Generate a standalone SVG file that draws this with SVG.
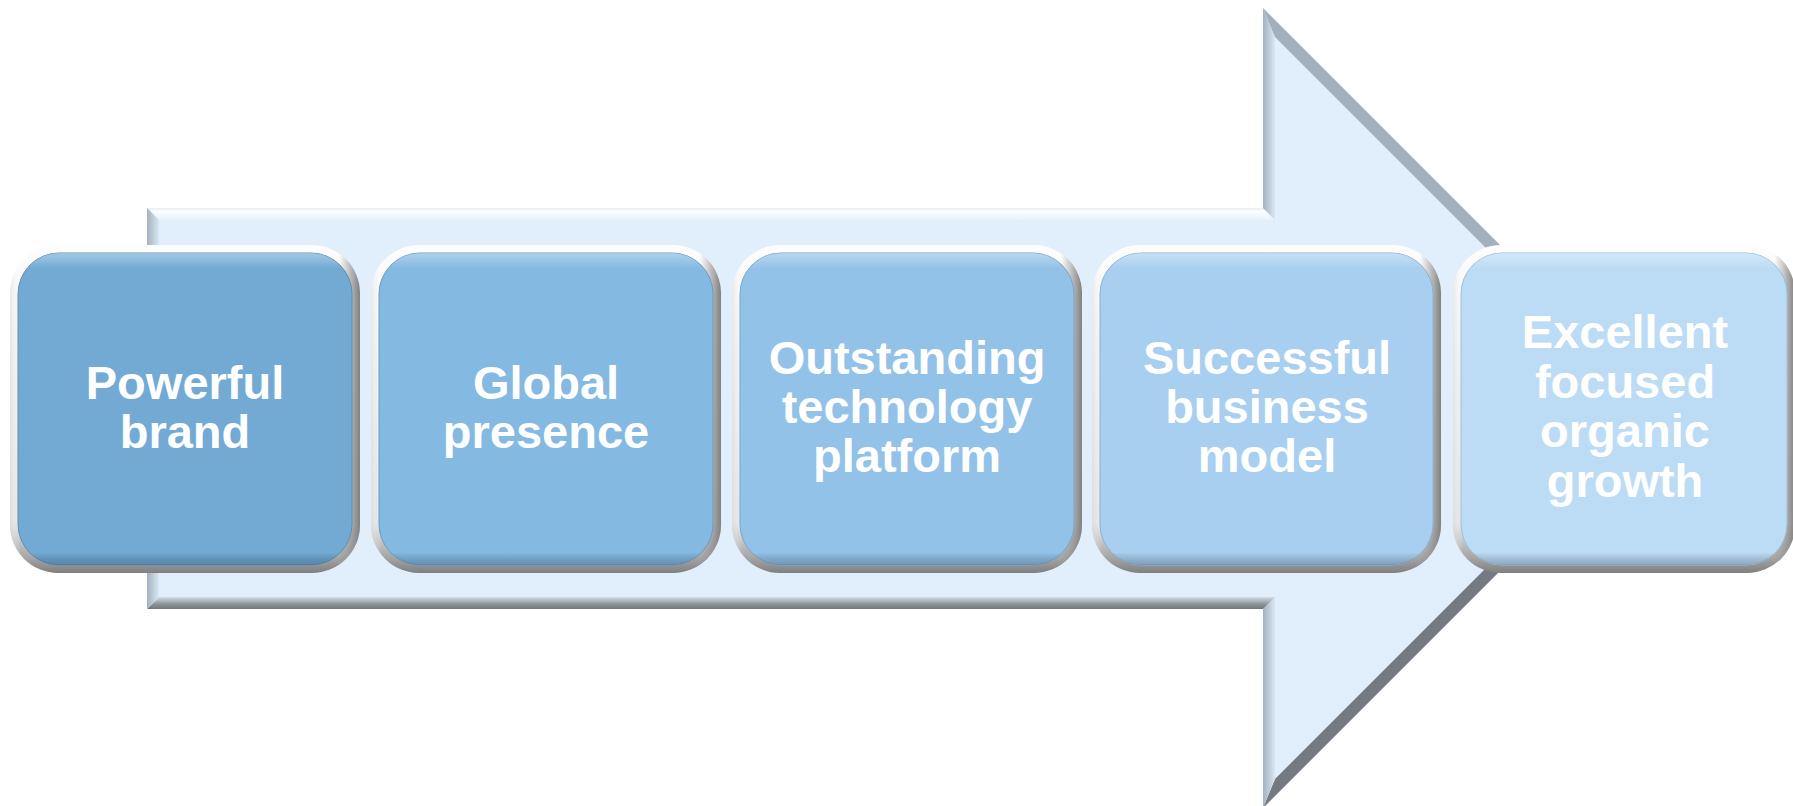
<svg xmlns="http://www.w3.org/2000/svg" width="1793" height="806" viewBox="0 0 1793 806">
<defs>
<style>
.lbl{font-family:"Liberation Sans",Arial,sans-serif;font-weight:bold;font-size:47px;fill:#ffffff;text-anchor:middle}
.frameV{fill:url(#frameV)}
.frameH{fill:url(#frameH)}
.hl{fill:url(#innerHL)}
</style>
<linearGradient id="frameV" x1="0" y1="0" x2="0" y2="1">
<stop offset="0" stop-color="#fdfdfd"/>
<stop offset="0.85" stop-color="#e4e4e4"/>
<stop offset="0.95" stop-color="#a8a8a8"/>
<stop offset="1" stop-color="#7f7f7f"/>
</linearGradient>
<linearGradient id="frameH" x1="0" y1="0" x2="1" y2="0">
<stop offset="0" stop-color="#d8d8d8" stop-opacity="0.5"/>
<stop offset="0.03" stop-color="#ffffff" stop-opacity="0"/>
<stop offset="0.94" stop-color="#8a8a8a" stop-opacity="0"/>
<stop offset="1" stop-color="#808080" stop-opacity="1"/>
</linearGradient>
<linearGradient id="innerHL" x1="0" y1="0" x2="0" y2="1">
<stop offset="0" stop-color="#ffffff" stop-opacity="0.35"/>
<stop offset="0.05" stop-color="#ffffff" stop-opacity="0"/>
<stop offset="0.96" stop-color="#000000" stop-opacity="0"/>
<stop offset="1" stop-color="#1a3550" stop-opacity="0.3"/>
</linearGradient>
<linearGradient id="bTop" x1="0" y1="0" x2="0" y2="1">
<stop offset="0" stop-color="#e8eef3"/>
<stop offset="0.3" stop-color="#fbfdff"/>
<stop offset="1" stop-color="#e6f2fc"/>
</linearGradient>
<linearGradient id="bLeft" x1="0" y1="0" x2="1" y2="0">
<stop offset="0" stop-color="#a3b2bf"/>
<stop offset="1" stop-color="#d9e7f2"/>
</linearGradient>
<linearGradient id="bBottom" x1="0" y1="0" x2="0" y2="1">
<stop offset="0" stop-color="#d3dee7"/>
<stop offset="0.6" stop-color="#8c949b"/>
<stop offset="1" stop-color="#6f757b"/>
</linearGradient>
</defs>
<rect width="1793" height="806" fill="#ffffff"/>
<g id="arrow">
<path d="M147,208 H1263 V8 L1663,408 L1263,808 V609 H147 Z" fill="#e0effb"/>
<polygon points="147,208 1263,208 1275,220 159,220" fill="url(#bTop)"/>
<polygon points="1263,208 1263,8 1275,37 1275,220" fill="url(#bLeft)"/>
<polygon points="1263,8 1663,408 1646,408 1275,37" fill="#a2b0bd"/>
<polygon points="1663,408 1263,808 1275,779 1646,408" fill="#737a81"/>
<polygon points="1263,808 1263,609 1275,597 1275,779" fill="url(#bLeft)"/>
<polygon points="1263,609 147,609 159,597 1275,597" fill="url(#bBottom)"/>
<polygon points="147,609 147,208 159,220 159,597" fill="url(#bLeft)"/>
</g>
<g id="connectors"></g>
<g id="node1">
<rect class="frameV" x="10" y="245" width="350" height="328" rx="48"/>
<rect class="frameH" x="10" y="245" width="350" height="328" rx="48"/>
<rect x="18" y="253" width="334" height="312" rx="41" fill="#72aad4" stroke="#5f8fb5" stroke-width="1"/>
<rect class="hl" x="18" y="253" width="334" height="312" rx="41"/>
<text class="lbl" x="185" y="399">Powerful</text>
<text class="lbl" x="185" y="448">brand</text>
</g>
<g id="node2">
<rect class="frameV" x="371" y="245" width="350" height="328" rx="48"/>
<rect class="frameH" x="371" y="245" width="350" height="328" rx="48"/>
<rect x="379" y="253" width="334" height="312" rx="41" fill="#84b9e2" stroke="#6a9cc2" stroke-width="1"/>
<rect class="hl" x="379" y="253" width="334" height="312" rx="41"/>
<text class="lbl" x="546" y="399">Global</text>
<text class="lbl" x="546" y="448">presence</text>
</g>
<g id="node3">
<rect class="frameV" x="732" y="245" width="350" height="328" rx="48"/>
<rect class="frameH" x="732" y="245" width="350" height="328" rx="48"/>
<rect x="740" y="253" width="334" height="312" rx="41" fill="#93c2e8" stroke="#78a6cb" stroke-width="1"/>
<rect class="hl" x="740" y="253" width="334" height="312" rx="41"/>
<text class="lbl" x="907" y="374">Outstanding</text>
<text class="lbl" x="907" y="423">technology</text>
<text class="lbl" x="907" y="472">platform</text>
</g>
<g id="node4">
<rect class="frameV" x="1092" y="245" width="349" height="328" rx="48"/>
<rect class="frameH" x="1092" y="245" width="349" height="328" rx="48"/>
<rect x="1100" y="253" width="333" height="312" rx="41" fill="#a8cfef" stroke="#8bb2d2" stroke-width="1"/>
<rect class="hl" x="1100" y="253" width="333" height="312" rx="41"/>
<text class="lbl" x="1267" y="374">Successful</text>
<text class="lbl" x="1267" y="423">business</text>
<text class="lbl" x="1267" y="472">model</text>
</g>
<g id="node5">
<rect class="frameV" x="1453" y="245" width="342" height="328" rx="48"/>
<rect class="frameH" x="1453" y="245" width="342" height="328" rx="48"/>
<rect x="1461" y="253" width="326" height="312" rx="41" fill="#bcdcf5" stroke="#9fc0da" stroke-width="1"/>
<rect class="hl" x="1461" y="253" width="326" height="312" rx="41"/>
<text class="lbl" x="1625" y="348">Excellent</text>
<text class="lbl" x="1625" y="398">focused</text>
<text class="lbl" x="1625" y="447">organic</text>
<text class="lbl" x="1625" y="497">growth</text>
</g>
</svg>
